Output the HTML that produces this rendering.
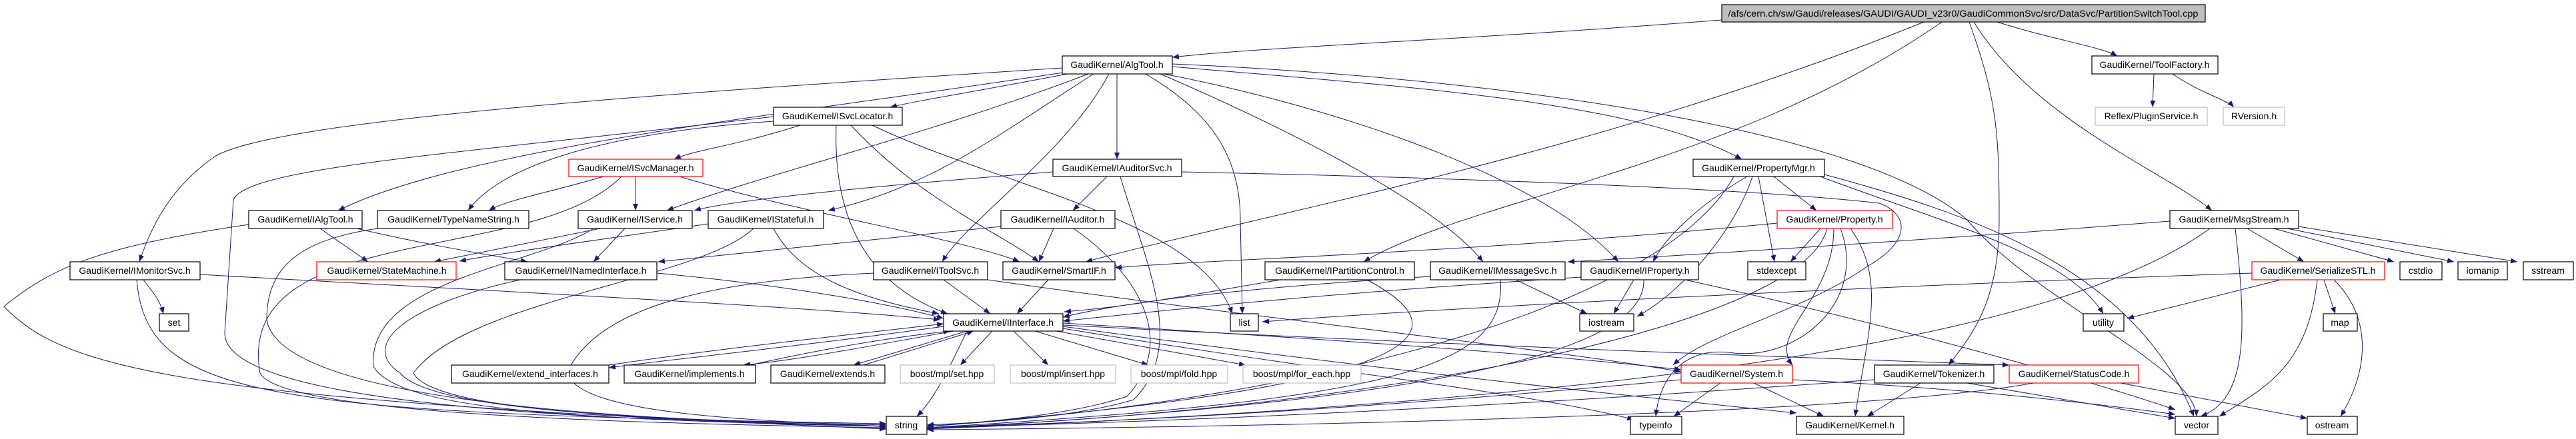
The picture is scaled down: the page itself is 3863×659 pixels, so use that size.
<!DOCTYPE html>
<html><head><meta charset="utf-8"><style>
html,body{margin:0;padding:0;background:#fff;width:3863px;height:659px;overflow:hidden}
svg text{font-family:"Liberation Sans",sans-serif;font-size:14px;fill:#000}
</style></head><body>
<svg width="3863" height="659" viewBox="0 0 3863 659" xmlns="http://www.w3.org/2000/svg">
<defs><marker id="a" markerWidth="10" markerHeight="8" refX="10" refY="4" orient="auto" markerUnits="userSpaceOnUse"><path d="M0,0 L10,4 L0,8 z" fill="#191970"/></marker></defs>
<g fill="none" stroke="#191970" stroke-width="1" marker-end="url(#a)">
<path d="M2582,30 C2200,60 1900,70 1758,86"/>
<path d="M2995,33 C3080,60 3150,70 3175,84"/>
<path d="M2960,33 C3050,180 3250,260 3317,316"/>
<path d="M2953,33 C2995,150 2998,200 2998,330 C2998,450 2960,500 2922,548"/>
<path d="M2885,33 C2400,230 1900,320 1628,393"/>
<path d="M2912,33 C2600,250 2200,300 2045,393"/>
<path d="M3230,111 L3228,161"/>
<path d="M3258,111 C3300,140 3340,150 3350,161"/>
<path d="M1593,102 C1000,140 400,180 319,237 C260,280 230,330 209,393"/>
<path d="M1600,108 C1200,170 700,220 507,316"/>
<path d="M1600,111 C1450,140 1380,150 1335,161"/>
<path d="M1632,111 C1400,200 1150,260 1000,316"/>
<path d="M1640,111 C1500,200 1400,280 1242,316"/>
<path d="M1675,111 L1675,239"/>
<path d="M1663,111 C1600,230 1450,330 1413,393"/>
<path d="M1718,111 C1800,160 1860,220 1860,330 L1863,471"/>
<path d="M1758,100 C2100,130 2450,150 2612,239"/>
<path d="M1740,111 C1900,180 2150,300 2224,393"/>
<path d="M1745,111 C1950,150 2300,250 2427,393"/>
<path d="M1758,96 C2300,120 2800,200 2950,330 C3050,450 3290,550 3294,625"/>
<path d="M1200,188 C1100,220 1040,225 1011,239"/>
<path d="M1160,182 C900,200 750,250 702,316"/>
<path d="M1254,188 C1250,300 1280,420 1421,471"/>
<path d="M1276,188 C1380,300 1500,350 1558,393"/>
<path d="M1308,188 C1500,280 1800,330 1848,471"/>
<path d="M1160,175 C700,230 370,250 350,300 L337,500 C337,600 800,630 1329,640"/>
<path d="M953,265 L953,316"/>
<path d="M905,265 C820,290 760,300 733,316"/>
<path d="M1019,265 C1200,320 1450,360 1529,393"/>
<path d="M932,265 C800,400 350,330 390,560 C420,620 900,635 1329,642"/>
<path d="M1660,265 L1609,316"/>
<path d="M1579,258 C1300,280 1100,300 1041,316"/>
<path d="M1772,258 C2100,265 2600,280 2818,305 C2860,320 2870,360 2800,400 C2700,470 2560,500 2509,548"/>
<path d="M1680,265 C1720,400 1780,520 1700,600 C1600,630 1450,635 1390,638"/>
<path d="M2620,265 C2560,300 2500,350 2479,393"/>
<path d="M2637,265 L2661,393"/>
<path d="M2660,265 L2724,316"/>
<path d="M2628,265 C2600,350 2520,440 2455,475"/>
<path d="M2730,265 C2900,330 3100,380 3154,471"/>
<path d="M2736,262 C2950,320 3200,400 3290,625"/>
<path d="M2600,265 C2500,450 2000,600 1390,640"/>
<path d="M2730,343 L2685,393"/>
<path d="M2750,343 C2750,450 2650,500 2688,548"/>
<path d="M2775,343 C2830,420 2800,500 2782,625"/>
<path d="M2760,343 C2800,450 2700,540 2600,530 C2530,520 2490,560 2483,625"/>
<path d="M2740,343 C2700,500 2000,620 1390,642"/>
<path d="M2665,335 C2200,380 1800,390 1672,402"/>
<path d="M3370,343 L3455,393"/>
<path d="M3410,343 L3590,393"/>
<path d="M3430,343 L3680,393"/>
<path d="M3447,340 L3775,393"/>
<path d="M3352,343 C3370,500 3370,600 3300,625"/>
<path d="M3254,332 C2900,360 2500,385 2351,393"/>
<path d="M3314,343 C3100,500 2500,600 1390,644"/>
<path d="M3420,420 L3190,478"/>
<path d="M3485,420 L3502,471"/>
<path d="M3475,420 C3460,550 3400,580 3328,625"/>
<path d="M3500,420 C3560,480 3550,560 3510,625"/>
<path d="M3377,410 C2800,430 2200,460 1893,483"/>
<path d="M215,420 C230,440 240,450 245,471"/>
<path d="M300,412 C800,440 1200,460 1410,480"/>
<path d="M205,420 C220,600 400,620 1329,636"/>
<path d="M480,343 L552,393"/>
<path d="M535,343 C650,370 750,385 791,393"/>
<path d="M373,337 C150,370 80,400 6,460 C100,560 300,600 1329,644"/>
<path d="M566,343 C450,360 400,400 400,480 C420,600 900,630 1329,640"/>
<path d="M900,343 L651,393"/>
<path d="M937,343 L890,393"/>
<path d="M890,343 C800,400 550,420 560,550 C600,620 900,630 1329,640"/>
<path d="M1062,336 C900,360 750,380 689,392"/>
<path d="M1160,343 C1200,420 1300,450 1408,471"/>
<path d="M1130,343 C1050,420 700,450 620,560 C650,620 1000,630 1329,640"/>
<path d="M1501,340 C1300,360 1100,380 987,393"/>
<path d="M1580,343 L1558,393"/>
<path d="M1610,343 C1720,420 1760,520 1690,595 C1600,625 1450,636 1390,640"/>
<path d="M985,410 C1200,430 1350,460 1415,478"/>
<path d="M780,420 C600,460 540,520 600,560 C650,620 1000,630 1329,638"/>
<path d="M1415,420 L1485,471"/>
<path d="M1310,410 C1100,420 900,450 850,560 C870,620 1100,630 1329,640"/>
<path d="M1481,420 C1900,480 2300,520 2521,558"/>
<path d="M1572,420 L1525,471"/>
<path d="M1920,420 C1800,440 1700,460 1596,468"/>
<path d="M2050,420 C2200,500 2150,580 1390,640"/>
<path d="M2145,415 C1900,430 1700,450 1594,476"/>
<path d="M2273,420 L2380,471"/>
<path d="M2250,420 C2260,550 2100,600 1390,642"/>
<path d="M2450,420 L2420,471"/>
<path d="M2371,416 C2000,440 1800,460 1594,482"/>
<path d="M2465,420 C2470,550 2000,610 1390,644"/>
<path d="M2527,420 C2800,480 3100,560 3262,615"/>
<path d="M1415,490 C1200,520 1000,540 913,552"/>
<path d="M913,548 C1100,520 1300,500 1415,486"/>
<path d="M1430,497 C1300,520 1200,540 1115,548"/>
<path d="M1125,548 C1250,520 1350,505 1425,497"/>
<path d="M1450,497 L1280,548"/>
<path d="M1295,548 L1460,497"/>
<path d="M1488,497 L1440,548"/>
<path d="M1520,497 L1572,548"/>
<path d="M1552,497 L1722,548"/>
<path d="M1584,497 L1868,548"/>
<path d="M1594,485 C2000,510 2300,530 2521,555"/>
<path d="M1594,488 C2200,520 2800,540 3013,548"/>
<path d="M1594,490 C2100,560 2500,600 2694,620"/>
<path d="M1594,493 C2000,560 2300,590 2450,630"/>
<path d="M1450,497 C1420,560 1400,600 1375,625"/>
<path d="M2580,575 L2510,625"/>
<path d="M2630,575 L2735,625"/>
<path d="M2688,570 C2900,580 3100,600 3262,622"/>
<path d="M2521,570 C2200,600 1800,630 1390,642"/>
<path d="M2880,575 L2800,625"/>
<path d="M2950,575 L3262,628"/>
<path d="M2811,570 C2400,600 1900,630 1390,642"/>
<path d="M3180,575 L3460,628"/>
<path d="M3050,575 C2800,620 2000,640 1390,645"/>
</g>
<g stroke-width="1.2" fill="#fff">
<rect x="2582" y="7" width="725" height="26" fill="#bfbfbf" stroke="#000"/>
<rect x="1593" y="84" width="165" height="27" stroke="#000"/>
<rect x="3137" y="84" width="189" height="27" stroke="#000"/>
<rect x="1160" y="161" width="193" height="27" stroke="#000"/>
<rect x="3142" y="161" width="168" height="27" stroke="#bfbfbf"/>
<rect x="3334" y="161" width="92" height="27" stroke="#bfbfbf"/>
<rect x="853" y="239" width="201" height="26" stroke="#ff0000"/>
<rect x="1579" y="239" width="193" height="26" stroke="#000"/>
<rect x="2539" y="239" width="197" height="26" stroke="#000"/>
<rect x="373" y="316" width="170" height="27" stroke="#000"/>
<rect x="566" y="316" width="227" height="27" stroke="#000"/>
<rect x="867" y="316" width="171" height="27" stroke="#000"/>
<rect x="1062" y="316" width="173" height="27" stroke="#000"/>
<rect x="1501" y="316" width="171" height="27" stroke="#000"/>
<rect x="2665" y="316" width="173" height="27" stroke="#ff0000"/>
<rect x="3254" y="316" width="193" height="27" stroke="#000"/>
<rect x="105" y="393" width="195" height="27" stroke="#000"/>
<rect x="475" y="393" width="209" height="27" stroke="#ff0000"/>
<rect x="757" y="393" width="228" height="27" stroke="#000"/>
<rect x="1310" y="393" width="171" height="27" stroke="#000"/>
<rect x="1504" y="393" width="168" height="27" stroke="#000"/>
<rect x="1897" y="393" width="224" height="27" stroke="#000"/>
<rect x="2145" y="393" width="202" height="27" stroke="#000"/>
<rect x="2371" y="393" width="176" height="27" stroke="#000"/>
<rect x="2621" y="393" width="87" height="27" stroke="#000"/>
<rect x="3377" y="393" width="199" height="27" stroke="#ff0000"/>
<rect x="3599" y="393" width="63" height="27" stroke="#000"/>
<rect x="3686" y="393" width="74" height="27" stroke="#000"/>
<rect x="3784" y="393" width="75" height="27" stroke="#000"/>
<rect x="239" y="471" width="44" height="26" stroke="#000"/>
<rect x="1415" y="471" width="179" height="26" stroke="#000"/>
<rect x="1845" y="471" width="42" height="26" stroke="#000"/>
<rect x="2369" y="471" width="81" height="26" stroke="#000"/>
<rect x="3124" y="471" width="61" height="26" stroke="#000"/>
<rect x="3484" y="471" width="51" height="26" stroke="#000"/>
<rect x="677" y="548" width="236" height="27" stroke="#000"/>
<rect x="936" y="548" width="197" height="27" stroke="#000"/>
<rect x="1156" y="548" width="171" height="27" stroke="#000"/>
<rect x="1350" y="548" width="141" height="27" stroke="#bfbfbf"/>
<rect x="1515" y="548" width="158" height="27" stroke="#bfbfbf"/>
<rect x="1696" y="548" width="145" height="27" stroke="#bfbfbf"/>
<rect x="1864" y="548" width="177" height="27" stroke="#bfbfbf"/>
<rect x="2521" y="548" width="167" height="27" stroke="#ff0000"/>
<rect x="2811" y="548" width="179" height="27" stroke="#000"/>
<rect x="3013" y="548" width="194" height="27" stroke="#ff0000"/>
<rect x="1329" y="625" width="61" height="27" stroke="#000"/>
<rect x="2445" y="625" width="77" height="27" stroke="#000"/>
<rect x="2694" y="625" width="161" height="27" stroke="#000"/>
<rect x="3262" y="625" width="64" height="27" stroke="#000"/>
<rect x="3460" y="625" width="75" height="27" stroke="#000"/>
</g>
<g text-anchor="middle">
<text x="2944" y="25" textLength="705" lengthAdjust="spacingAndGlyphs">/afs/cern.ch/sw/Gaudi/releases/GAUDI/GAUDI_v23r0/GaudiCommonSvc/src/DataSvc/PartitionSwitchTool.cpp</text>
<text x="1675" y="102">GaudiKernel/AlgTool.h</text>
<text x="3231" y="102">GaudiKernel/ToolFactory.h</text>
<text x="1256" y="179">GaudiKernel/ISvcLocator.h</text>
<text x="3226" y="179">Reflex/PluginService.h</text>
<text x="3380" y="179">RVersion.h</text>
<text x="953" y="257">GaudiKernel/ISvcManager.h</text>
<text x="1675" y="257">GaudiKernel/IAuditorSvc.h</text>
<text x="2637" y="257">GaudiKernel/PropertyMgr.h</text>
<text x="458" y="334">GaudiKernel/IAlgTool.h</text>
<text x="680" y="334">GaudiKernel/TypeNameString.h</text>
<text x="952" y="334">GaudiKernel/IService.h</text>
<text x="1148" y="334">GaudiKernel/IStateful.h</text>
<text x="1586" y="334">GaudiKernel/IAuditor.h</text>
<text x="2751" y="334">GaudiKernel/Property.h</text>
<text x="3350" y="334">GaudiKernel/MsgStream.h</text>
<text x="202" y="411">GaudiKernel/IMonitorSvc.h</text>
<text x="580" y="411">GaudiKernel/StateMachine.h</text>
<text x="871" y="411">GaudiKernel/INamedInterface.h</text>
<text x="1395" y="411">GaudiKernel/IToolSvc.h</text>
<text x="1588" y="411">GaudiKernel/SmartIF.h</text>
<text x="2009" y="411">GaudiKernel/IPartitionControl.h</text>
<text x="2246" y="411">GaudiKernel/IMessageSvc.h</text>
<text x="2459" y="411">GaudiKernel/IProperty.h</text>
<text x="2664" y="411">stdexcept</text>
<text x="3476" y="411">GaudiKernel/SerializeSTL.h</text>
<text x="3630" y="411">cstdio</text>
<text x="3723" y="411">iomanip</text>
<text x="3821" y="411">sstream</text>
<text x="261" y="489">set</text>
<text x="1504" y="489">GaudiKernel/IInterface.h</text>
<text x="1866" y="489">list</text>
<text x="2409" y="489">iostream</text>
<text x="3154" y="489">utility</text>
<text x="3509" y="489">map</text>
<text x="795" y="566">GaudiKernel/extend_interfaces.h</text>
<text x="1034" y="566">GaudiKernel/implements.h</text>
<text x="1241" y="566">GaudiKernel/extends.h</text>
<text x="1420" y="566">boost/mpl/set.hpp</text>
<text x="1594" y="566">boost/mpl/insert.hpp</text>
<text x="1768" y="566">boost/mpl/fold.hpp</text>
<text x="1952" y="566">boost/mpl/for_each.hpp</text>
<text x="2604" y="566">GaudiKernel/System.h</text>
<text x="2900" y="566">GaudiKernel/Tokenizer.h</text>
<text x="3110" y="566">GaudiKernel/StatusCode.h</text>
<text x="1359" y="643">string</text>
<text x="2483" y="643">typeinfo</text>
<text x="2774" y="643">GaudiKernel/Kernel.h</text>
<text x="3294" y="643">vector</text>
<text x="3497" y="643">ostream</text>
</g>
</svg>
</body></html>
